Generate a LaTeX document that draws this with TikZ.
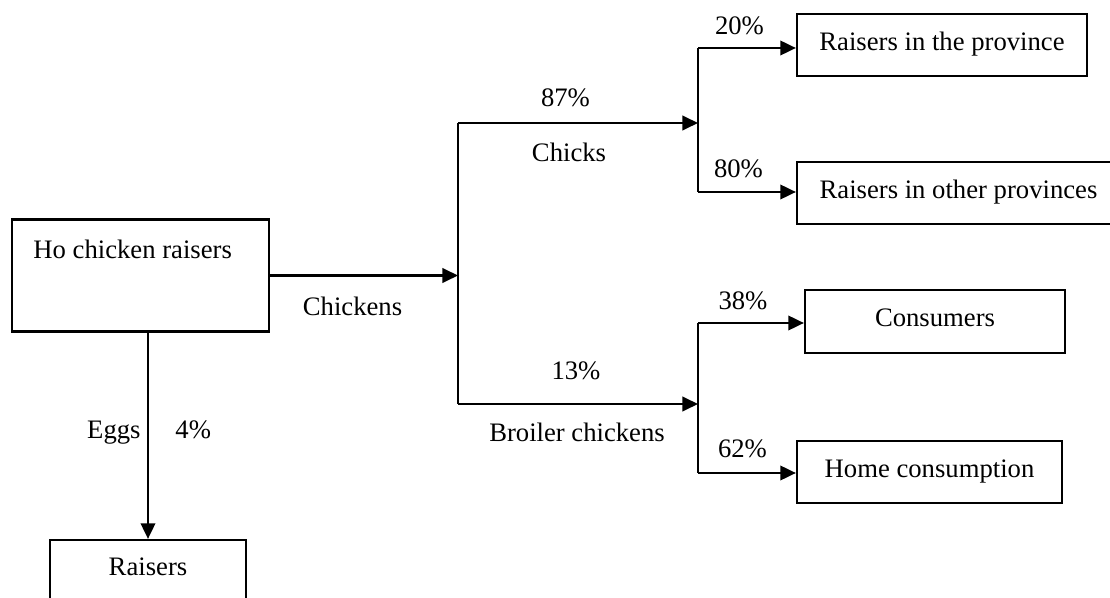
\documentclass[tikz,border=0pt]{standalone}
\usepackage{fontspec}
\setmainfont{Liberation Serif}
\usetikzlibrary{arrows.meta}

\newlength{\unitpx}
\setlength{\unitpx}{0.45pt}

\begin{document}
\begin{tikzpicture}[x=\unitpx, y=-\unitpx,
        font=\fontsize{12pt}{14pt}\selectfont,
        box/.style={draw, line width=1pt, inner sep=0pt, text height=0.68em, text depth=0.22em},
        lbl/.style={inner sep=0pt, anchor=base},
        wire/.style={line width=1pt},
        flow/.style={line width=1pt, -{Triangle[length=7pt, width=6.5pt]}}]
        \clip (0,0) rectangle (1110,598);

        % boxes
        \node[box, minimum width=257\unitpx, minimum height=112\unitpx] (ho) at (140.5,275.5) {};
        \node[lbl, anchor=base west] (holbl) at (33,259) {Ho chicken raisers};

        \node[box, minimum width=196\unitpx, minimum height=60\unitpx] (rais) at (148,570) {Raisers};

        \node[box, minimum width=290\unitpx, minimum height=62\unitpx] (prov) at (942,45) {Raisers in the province};
        \node[box, minimum width=323\unitpx, minimum height=62\unitpx] (other) at (958.5,193) {Raisers in other provinces};

        \node[box, minimum width=260\unitpx, minimum height=63\unitpx] (cons) at (935,321.5) {Consumers};
        \node[box, minimum width=265\unitpx, minimum height=62\unitpx] (home) at (929.5,472) {Home consumption};

        % junction points
        \coordinate (split) at (458,275.5);
        \coordinate (chk) at (458,123);
        \coordinate (brl) at (458,404);

        \coordinate (chkfork) at (698,123);
        \coordinate (chkup) at (698,48);
        \coordinate (chkdn) at (698,192);

        \coordinate (brlfork) at (698,404);
        \coordinate (brlup) at (698,323);
        \coordinate (brldn) at (698,473);

        % connectors
        \draw[flow] (ho.east) -- (split);
        \draw[wire] (chk) -- (brl);

        \draw[flow] (chk) -- (chkfork);
        \draw[wire] (chkup) -- (chkdn);
        \draw[flow] (chkup) -- (chkup -| prov.west);
        \draw[flow] (chkdn) -- (chkdn -| other.west);

        \draw[flow] (brl) -- (brlfork);
        \draw[wire] (brlup) -- (brldn);
        \draw[flow] (brlup) -- (brlup -| cons.west);
        \draw[flow] (brldn) -- (brldn -| home.west);

        \draw[flow] (rais.north |- ho.south) -- (rais.north);

        % labels
        \node[lbl] (lchickens) at (352.5,316) {Chickens};
        \node[lbl] (p87) at (565.5,107) {87\%};
        \node[lbl] (lchicks) at (569,162) {Chicks};
        \node[lbl] (p13) at (576,380) {13\%};
        \node[lbl] (lbroiler) at (577,442) {Broiler chickens};

        \node[lbl] (p20) at (739.5,35) {20\%};
        \node[lbl] (p80) at (738.5,178) {80\%};
        \node[lbl] (p38) at (743,310) {38\%};
        \node[lbl] (p62) at (742.5,458) {62\%};

        \node[lbl, anchor=base east] (leggs) at (141,439) {Eggs};
        \node[lbl, anchor=base west] (p4) at (175,439) {4\%};
    \end{tikzpicture}
\end{document}
